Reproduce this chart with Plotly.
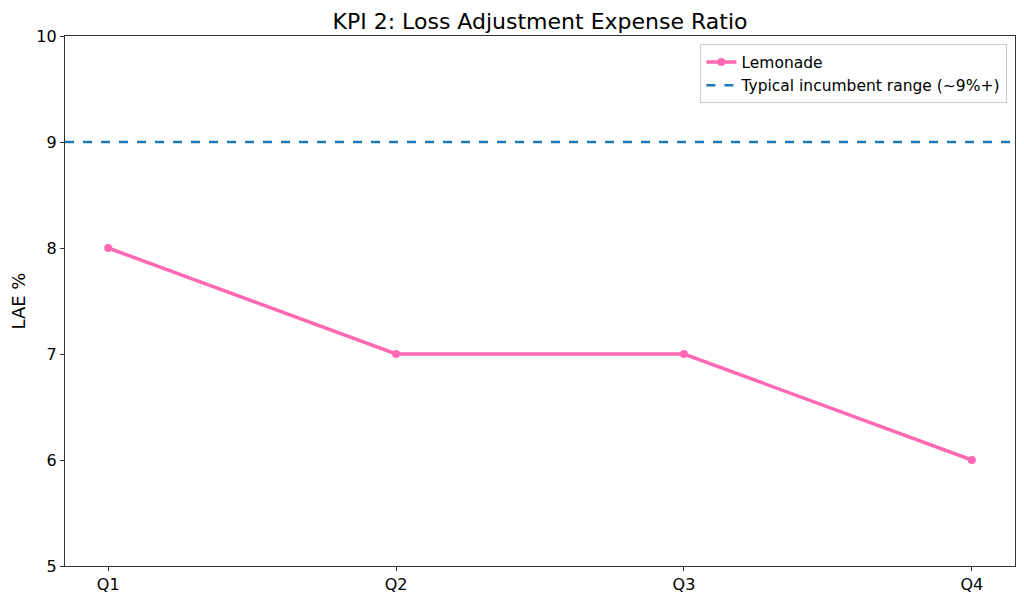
import plotly.graph_objects as go

quarters = ["Q1", "Q2", "Q3", "Q4"]
lae_pct = [8, 7, 7, 6]
incumbent_level = 9

x_pos = list(range(len(quarters)))

fig = go.Figure()

fig.add_trace(go.Scatter(
    x=x_pos, y=lae_pct, mode="lines+markers", name="Lemonade",
    line=dict(color="#ff69b4", width=3.5),
    marker=dict(color="#ff69b4", size=8),
))

# legend entry for the horizontal reference line
fig.add_trace(go.Scatter(
    x=[None], y=[None], mode="lines", name="Typical incumbent range (~9%+)",
    line=dict(color="#1f77b4", width=2.5, dash="dash"),
))

fig.add_hline(y=incumbent_level, line=dict(color="#1f77b4", width=2.5, dash="dash"))

# page has an 8px body margin, so margins are shifted by that much
fig.update_layout(
    width=1008, height=587,
    paper_bgcolor="white", plot_bgcolor="white",
    font=dict(family="DejaVu Sans", color="black", size=15),
    margin=dict(l=57, r=1, t=28, b=29, autoexpand=False),
    title=dict(text="KPI 2: Loss Adjustment Expense Ratio", x=0.5, xanchor="center",
               xref="paper", y=0.977, yanchor="middle", font=dict(size=22)),
    legend=dict(x=0.992, y=0.984, xanchor="right", yanchor="top",
                bgcolor="rgba(255,255,255,0.8)", bordercolor="#cccccc", borderwidth=1,
                font=dict(size=15.5), tracegroupgap=0),
    showlegend=True,
)

fig.update_xaxes(
    range=[-0.15, 3.15], tickvals=x_pos, ticktext=quarters, tickfont=dict(size=16),
    showgrid=False, zeroline=False, showline=True, linecolor="#333333", linewidth=1.3,
    mirror=True, ticks="outside", ticklen=4, tickcolor="#333333",
)
fig.update_yaxes(
    range=[5, 10], dtick=1, title=dict(text="LAE %", font=dict(size=18), standoff=10),
    tickfont=dict(size=16),
    showgrid=False, zeroline=False, showline=True, linecolor="#333333", linewidth=1.3,
    mirror=True, ticks="outside", ticklen=4, tickcolor="#333333",
)

fig.write_html("out.html")
